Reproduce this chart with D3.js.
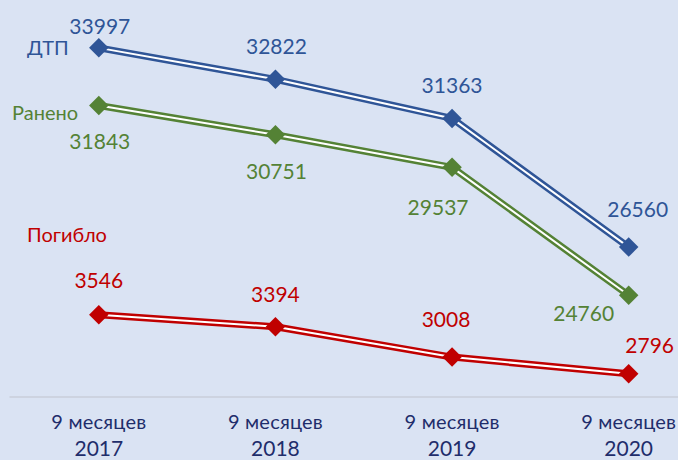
<!DOCTYPE html>
<html>
<head>
<meta charset="utf-8">
<script src="https://cdn.jsdelivr.net/npm/d3@7"></script>
<style>
  body { margin: 0; background: #dae3f3; }
  svg { display: block; font-family: Lato, "Open Sans", sans-serif; }
</style>
</head>
<body>
<div id="chart"></div>
<script>
// data
var periods = ["9 месяцев|2017", "9 месяцев|2018", "9 месяцев|2019", "9 месяцев|2020"];
var dtp = [33997, 32822, 31363, 26560];
var raneno = [31843, 30751, 29537, 24760];
var pogiblo = [3546, 3394, 3008, 2796];

var svgWidth = 678;
var svgHeight = 460;

var svg = d3.select("#chart")
  .append("svg")
  .attr("width", svgWidth)
  .attr("height", svgHeight);

svg.append("rect")
  .attr("width", svgWidth)
  .attr("height", svgHeight)
  .attr("fill", "#dae3f3");

// the original is cut off on the right, so the band runs past the edge
var x = d3.scaleBand()
  .domain(periods)
  .range([10.5, 717]);

// main axis for ДТП / Ранено, secondary axis for Погибло
var yMain = d3.scaleLinear()
  .domain([21000, 35000])
  .range([396, 21]);

var ySec = d3.scaleLinear()
  .domain([2500, 7300])
  .range([397, 20]);

var cx = function(i) { return x(periods[i]) + x.bandwidth() / 2; };

// bottom axis line
svg.append("line")
  .attr("x1", x.range()[0] - 1)
  .attr("x2", svgWidth)
  .attr("y1", 397)
  .attr("y2", 397)
  .attr("stroke", "#c8ceda")
  .attr("stroke-width", 1.5);

// category labels
var ticks = svg.selectAll("g.tick")
  .data(periods)
  .enter()
  .append("g")
  .attr("class", "tick")
  .attr("transform", d => `translate(${x(d) + x.bandwidth() / 2}, 0)`);

ticks.append("text")
  .attr("y", 429)
  .attr("text-anchor", "middle")
  .attr("fill", "#1f2d6b")
  .attr("font-size", 20)
  .attr("letter-spacing", 0.2)
  .text(d => d.split("|")[0]);

ticks.append("text")
  .attr("y", 456)
  .attr("text-anchor", "middle")
  .attr("fill", "#1f2d6b")
  .attr("font-size", 21)
  .text(d => d.split("|")[1]);

// label offsets from the markers (layout only)
var series = [
  { name: "ДТП", values: dtp, scale: yMain, color: "#2f5597",
    nameX: 27, nameY: 55,
    offs: [[1, -14], [1, -25], [0, -25], [9, -30]] },
  { name: "Ранено", values: raneno, scale: yMain, color: "#548235",
    nameX: 12, nameY: 120,
    offs: [[1, 43], [1, 44], [-14, 48], [-45, 26]] },
  { name: "Погибло", values: pogiblo, scale: ySec, color: "#c00000",
    nameX: 27, nameY: 242,
    offs: [[0, -27], [0, -25], [-6, -30], [21, -21]] }
];

var diamond = d3.symbol().type(d3.symbolSquare).size(190);

series.forEach(function(s) {
  var line = d3.line()
    .x((d, i) => cx(i))
    .y(d => s.scale(d));

  var g = svg.append("g");

  // compound line: coloured outer stroke with a white core
  g.append("path")
    .attr("d", line(s.values))
    .attr("fill", "none")
    .attr("stroke", s.color)
    .attr("stroke-width", 7)
    .attr("stroke-linejoin", "round");

  g.append("path")
    .attr("d", line(s.values))
    .attr("fill", "none")
    .attr("stroke", "#ffffff")
    .attr("stroke-width", 2)
    .attr("stroke-linejoin", "round");

  g.selectAll("path.marker")
    .data(s.values)
    .enter()
    .append("path")
    .attr("class", "marker")
    .attr("d", diamond)
    .attr("transform", (d, i) => `translate(${cx(i)}, ${s.scale(d)}) rotate(45)`)
    .attr("fill", s.color);

  g.selectAll("text.val")
    .data(s.values)
    .enter()
    .append("text")
    .attr("class", "val")
    .attr("x", (d, i) => cx(i) + s.offs[i][0])
    .attr("y", (d, i) => s.scale(d) + s.offs[i][1])
    .attr("text-anchor", "middle")
    .attr("fill", s.color)
    .attr("font-size", 21)
    .text(d => d);

  g.append("text")
    .attr("x", s.nameX)
    .attr("y", s.nameY)
    .attr("fill", s.color)
    .attr("font-size", 20)
    .text(s.name);
});
</script>
</body>
</html>
